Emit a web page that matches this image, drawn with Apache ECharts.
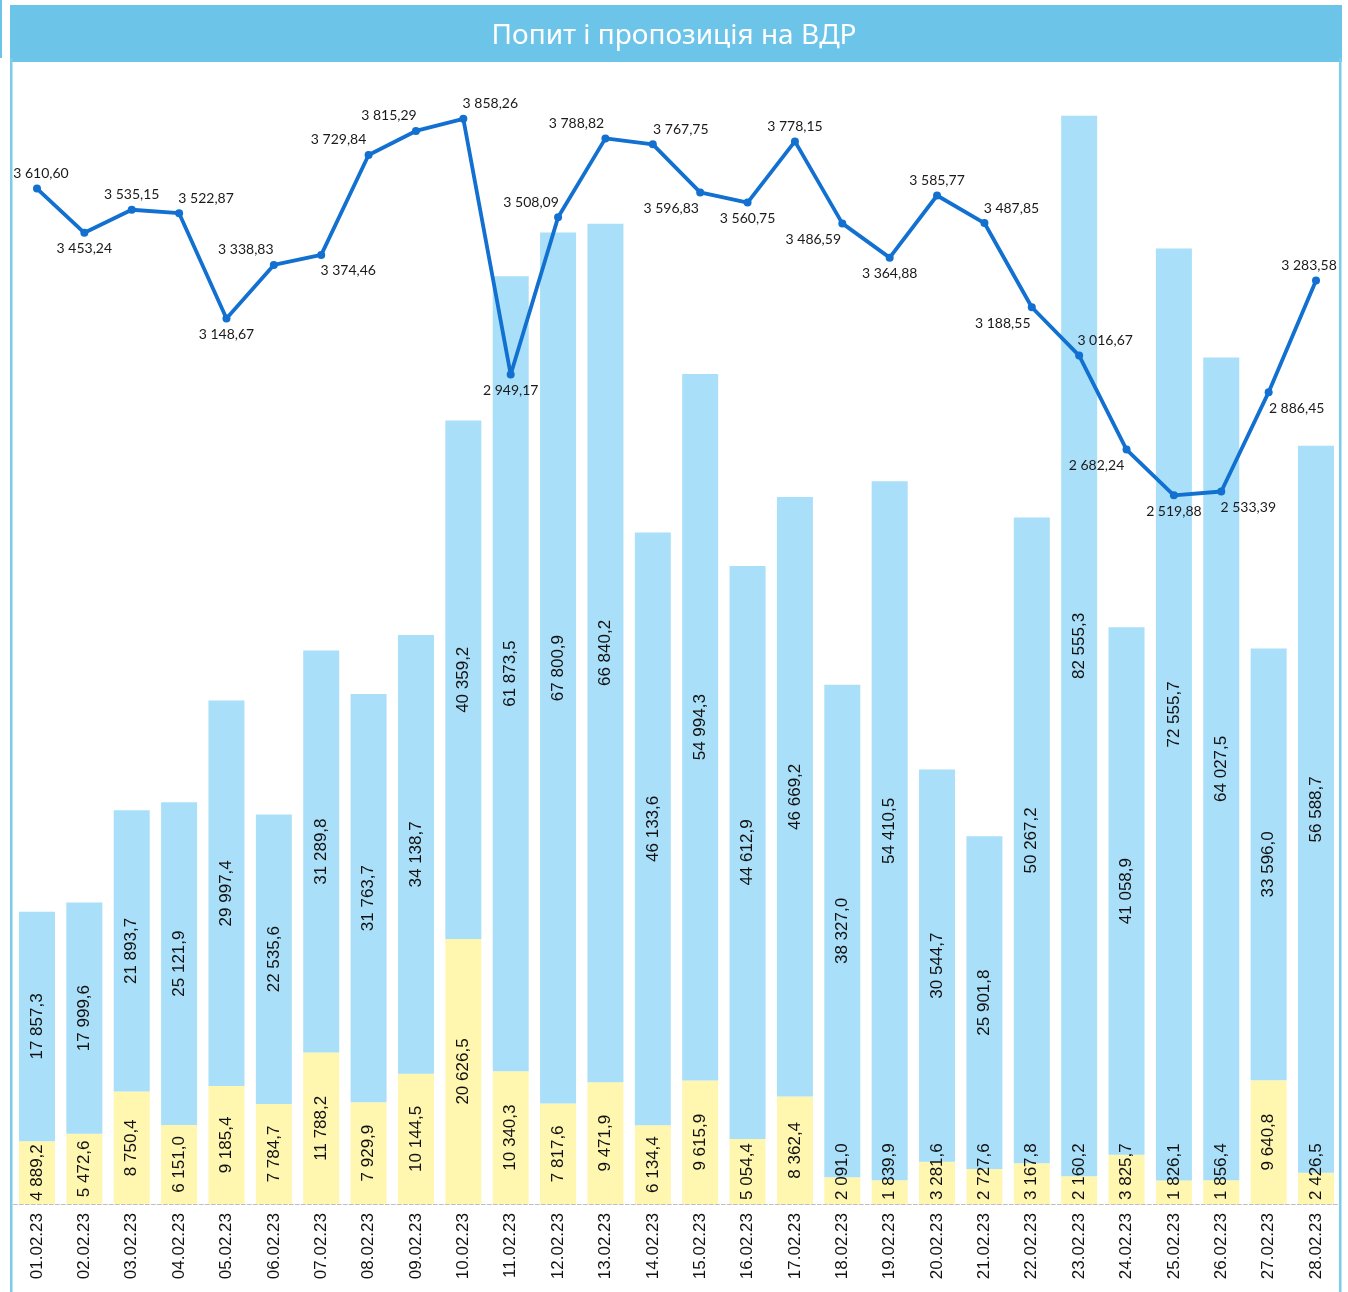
<!DOCTYPE html>
<html>
<head>
<meta charset="utf-8">
<script src="https://cdn.jsdelivr.net/npm/echarts@6/dist/echarts.min.js"></script>
<style>
  html, body { margin: 0; padding: 0; background: #fff; }
  #chart { width: 1348px; height: 1292px; }
</style>
</head>
<body>
<div id="chart"></div>
<script>
const dates = [
  "01.02.23", "02.02.23", "03.02.23", "04.02.23", "05.02.23", "06.02.23", "07.02.23",
  "08.02.23", "09.02.23", "10.02.23", "11.02.23", "12.02.23", "13.02.23", "14.02.23",
  "15.02.23", "16.02.23", "17.02.23", "18.02.23", "19.02.23", "20.02.23", "21.02.23",
  "22.02.23", "23.02.23", "24.02.23", "25.02.23", "26.02.23", "27.02.23", "28.02.23",
];
// yellow (bottom) segment
const demand = [
  4889.2, 5472.6, 8750.4, 6151.0, 9185.4, 7784.7, 11788.2, 7929.9, 10144.5, 20626.5,
  10340.3, 7817.6, 9471.9, 6134.4, 9615.9, 5054.4, 8362.4, 2091.0, 1839.9, 3281.6,
  2727.6, 3167.8, 2160.2, 3825.7, 1826.1, 1856.4, 9640.8, 2426.5,
];
// blue (top) segment
const supply = [
  17857.3, 17999.6, 21893.7, 25121.9, 29997.4, 22535.6, 31289.8, 31763.7, 34138.7, 40359.2,
  61873.5, 67800.9, 66840.2, 46133.6, 54994.3, 44612.9, 46669.2, 38327.0, 54410.5, 30544.7,
  25901.8, 50267.2, 82555.3, 41058.9, 72555.7, 64027.5, 33596.0, 56588.7,
];
// price line
const price = [
  3610.60, 3453.24, 3535.15, 3522.87, 3148.67, 3338.83, 3374.46, 3729.84, 3815.29, 3858.26,
  2949.17, 3508.09, 3788.82, 3767.75, 3596.83, 3560.75, 3778.15, 3486.59, 3364.88, 3585.77,
  3487.85, 3188.55, 3016.67, 2682.24, 2519.88, 2533.39, 2886.45, 3283.58,
];
// where each price label sits: t = above, b = below, then dx
const priceLabelPos = [
  ["t", 4], ["b", 0], ["t", 0], ["t", 27], ["b", 0], ["t", -28], ["b", 27], ["t", -30],
  ["t", -27], ["t", 27], ["b", 0], ["t", -27], ["t", -29], ["t", 28], ["b", -29], ["b", 0],
  ["t", 0], ["b", -29], ["b", 0], ["t", 0], ["t", 27], ["b", -29], ["t", 26], ["b", -30],
  ["b", 0], ["b", 27], ["b", 28], ["t", -7],
];

function fmt(v, digits) {
  const parts = v.toFixed(digits).split(".");
  const int = parts[0].replace(/\B(?=(\d{3})+(?!\d))/g, " ");
  return int + "," + parts[1];
}

const myChart = echarts.init(document.getElementById("chart"));

const barLabel = {
  show: true,
  rotate: 90,
  position: "inside",
  color: "#111",
  fontFamily: "Liberation Sans",
  fontSize: 17,
  formatter: (p) => fmt(p.value, 1),
};

const option = {
  backgroundColor: "#fff",
  animation: false,
  title: {
    text: "Попит і пропозиція на ВДР",
    left: "center",
    top: 17,
    textStyle: {
      color: "#fff",
      fontFamily: "Noto Sans",
      fontWeight: "normal",
      fontSize: 28,
    },
  },
  graphic: [
    {
      type: "rect",
      z: -1,
      shape: { x: 10, y: 5, width: 1332, height: 57 },
      style: { fill: "#6cc4e9" },
    },
    {
      type: "rect",
      z: -1,
      shape: { x: 0, y: 0, width: 2, height: 58 },
      style: { fill: "#6cc4e9" },
    },
    {
      type: "rect",
      z: -1,
      shape: { x: 10, y: 58, width: 2.5, height: 1240 },
      style: { fill: "#7ccbeb" },
    },
    {
      type: "rect",
      z: -1,
      shape: { x: 1339, y: 58, width: 2.5, height: 1240 },
      style: { fill: "#7ccbeb" },
    },
  ],
  grid: {
    left: 13.3,
    right: 8.3,
    top: 79,
    bottom: 88,
  },
  xAxis: {
    type: "category",
    data: dates,
    axisLine: {
      show: true,
      lineStyle: { color: "#bfbfbf", type: "dashed", width: 1 },
    },
    axisTick: { show: false },
    axisLabel: {
      rotate: 90,
      margin: 9,
      color: "#111",
      fontFamily: "Liberation Sans",
      fontSize: 17,
      interval: 0,
    },
  },
  yAxis: [
    {
      type: "value",
      min: 0,
      max: 87570,
      show: false,
      splitLine: { show: false },
    },
    {
      type: "value",
      min: 0,
      max: 4000,
      show: false,
      splitLine: { show: false },
    },
  ],
  series: [
    {
      name: "Попит",
      type: "bar",
      stack: "vol",
      barWidth: 36,
      itemStyle: { color: "#fff6b0" },
      label: barLabel,
      data: demand.map((v) => {
        if (v < 4600) {
          return {
            value: v,
            label: {
              position: "insideBottom",
              align: "left",
              verticalAlign: "middle",
              distance: 4,
            },
          };
        }
        return v;
      }),
    },
    {
      name: "Пропозиція",
      type: "bar",
      stack: "vol",
      barWidth: 36,
      itemStyle: { color: "#a9dff8" },
      label: barLabel,
      data: supply,
    },
    {
      name: "Ціна",
      type: "line",
      yAxisIndex: 1,
      z: 5,
      symbol: "circle",
      symbolSize: 8,
      lineStyle: { color: "#1170d0", width: 3.8 },
      itemStyle: { color: "#1170d0" },
      label: {
        show: true,
        color: "#1a1a1a",
        fontFamily: "Lato",
        fontSize: 14,
        formatter: (p) => fmt(p.value, 2),
      },
      data: price.map((v, i) => {
        const top = priceLabelPos[i][0] === "t";
        return {
          value: v,
          label: {
            position: top ? "top" : "bottom",
            distance: top ? 4 : 5,
            offset: [priceLabelPos[i][1], 0],
          },
        };
      }),
    },
  ],
};

myChart.setOption(option);
</script>
</body>
</html>
